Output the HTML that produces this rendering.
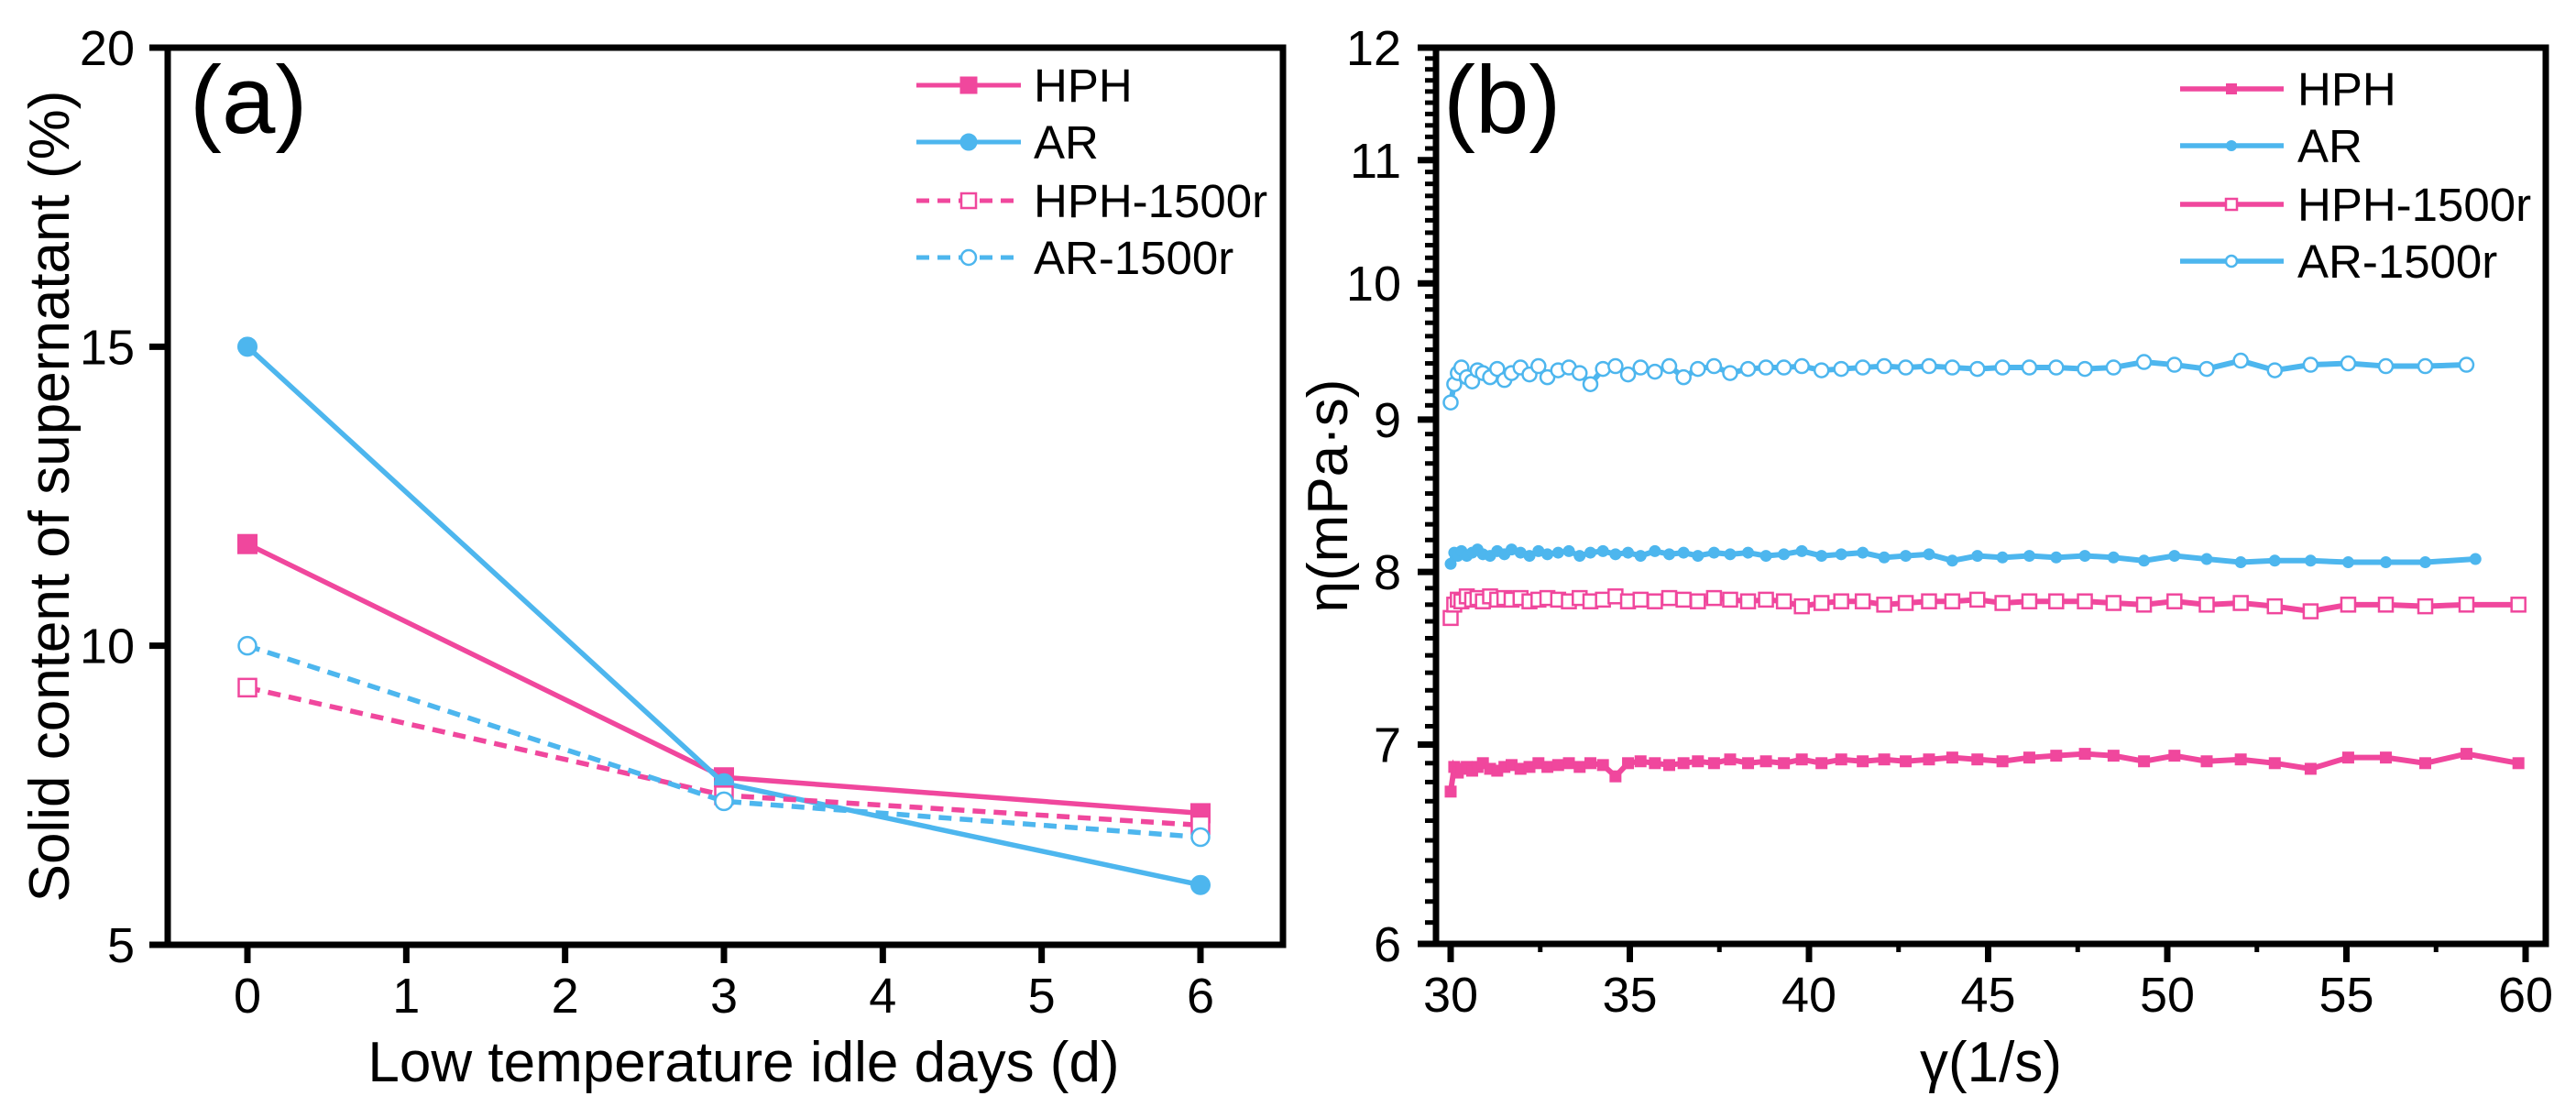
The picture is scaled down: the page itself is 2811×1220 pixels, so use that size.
<!DOCTYPE html>
<html><head><meta charset="utf-8"><style>
html,body{margin:0;padding:0;background:#fff}
svg{display:block;font-family:"Liberation Sans",Arial,sans-serif}
</style></head><body>
<svg id="fig" width="2811" height="1220" viewBox="0 0 2811 1220" xmlns="http://www.w3.org/2000/svg">
<g id="pa"></g>
<g id="pb"></g>
</svg>
<script>
// ---- Panel (a) data ----
const daysA = [0, 3, 6];
const hphA = [11.7, 7.8, 7.2];
const arA = [15.0, 7.7, 6.0];
const hph1500A = [9.3, 7.5, 7.0];
const ar1500A = [10.0, 7.4, 6.8];
const xTicksA = [0, 1, 2, 3, 4, 5, 6];
const yTicksA = [5, 10, 15, 20];

// ---- Panel (b) data ----
const shearB = [30.0,30.1,30.2,30.3,30.45,30.6,30.75,30.9,31.1,31.3,31.5,31.7,31.95,32.2,32.45,32.7,33.0,33.3,33.6,33.9,34.25,34.6,34.95,35.3,35.7,36.1,36.5,36.9,37.35,37.8,38.3,38.8,39.3,39.8,40.35,40.9,41.5,42.1,42.7,43.35,44.0,44.7,45.4,46.15,46.9,47.7,48.5,49.35,50.2,51.1,52.05,53.0,54.0,55.05,56.1,57.2,58.35,59.8];
const shearAR = [30.0,30.1,30.2,30.3,30.45,30.6,30.75,30.9,31.1,31.3,31.5,31.7,31.95,32.2,32.45,32.7,33.0,33.3,33.6,33.9,34.25,34.6,34.95,35.3,35.7,36.1,36.5,36.9,37.35,37.8,38.3,38.8,39.3,39.8,40.35,40.9,41.5,42.1,42.7,43.35,44.0,44.7,45.4,46.15,46.9,47.7,48.5,49.35,50.2,51.1,52.05,53.0,54.0,55.05,56.1,57.2,58.6];
const hphB = [6.75,6.88,6.85,6.87,6.88,6.86,6.88,6.9,6.87,6.86,6.88,6.89,6.87,6.88,6.9,6.88,6.89,6.9,6.88,6.9,6.89,6.83,6.9,6.91,6.9,6.89,6.9,6.91,6.9,6.92,6.9,6.91,6.9,6.92,6.9,6.92,6.91,6.92,6.91,6.92,6.93,6.92,6.91,6.93,6.94,6.95,6.94,6.91,6.94,6.91,6.92,6.9,6.87,6.93,6.93,6.9,6.95,6.9];
const arB = [8.05,8.12,8.1,8.13,8.1,8.12,8.14,8.11,8.1,8.13,8.11,8.14,8.12,8.1,8.13,8.11,8.12,8.13,8.1,8.12,8.13,8.11,8.12,8.1,8.13,8.11,8.12,8.1,8.12,8.11,8.12,8.1,8.11,8.13,8.1,8.11,8.12,8.09,8.1,8.11,8.07,8.1,8.09,8.1,8.09,8.1,8.09,8.07,8.1,8.08,8.06,8.07,8.07,8.06,8.06,8.06,8.08];
const hph1500B = [7.72,7.8,7.83,7.82,7.85,7.83,7.84,7.82,7.85,7.83,7.84,7.83,7.84,7.82,7.83,7.84,7.83,7.82,7.84,7.82,7.83,7.85,7.82,7.83,7.82,7.84,7.83,7.82,7.84,7.83,7.82,7.83,7.82,7.79,7.81,7.82,7.82,7.8,7.81,7.82,7.82,7.83,7.81,7.82,7.82,7.82,7.81,7.8,7.82,7.8,7.81,7.79,7.76,7.8,7.8,7.79,7.8,7.8];
const ar1500B = [9.12,9.25,9.33,9.37,9.3,9.27,9.35,9.33,9.3,9.36,9.28,9.33,9.37,9.32,9.38,9.3,9.35,9.37,9.33,9.25,9.36,9.38,9.32,9.37,9.34,9.38,9.3,9.36,9.38,9.33,9.36,9.37,9.37,9.38,9.35,9.36,9.37,9.38,9.37,9.38,9.37,9.36,9.37,9.37,9.37,9.36,9.37,9.41,9.39,9.36,9.42,9.35,9.39,9.4,9.38,9.38,9.39];
const xTicksB = [30, 35, 40, 45, 50, 55, 60];
const yTicksB = [6, 7, 8, 9, 10, 11, 12];

const NS = "http://www.w3.org/2000/svg";
const PINK = "#f0479d", BLUE = "#4db6ee";
function mk(parent, tag, attrs, text) {
  const e = document.createElementNS(NS, tag);
  for (const k in attrs) e.setAttribute(k, attrs[k]);
  if (text !== undefined) e.textContent = text;
  parent.appendChild(e);
  return e;
}
function marker(g, shape, x, y, s, color, filled) {
  let m;
  if (shape === "sq") m = mk(g, "rect", {x: x - s/2, y: y - s/2, width: s, height: s, fill: filled ? color : "#fff", stroke: color, "stroke-width": filled ? 1 : 2.5});
  else m = mk(g, "circle", {cx: x, cy: y, r: s/2, fill: filled ? color : "#fff", stroke: color, "stroke-width": filled ? 1 : 2.5});
  
  
  return m;
}

// ---------- Panel A ----------
(function () {
  const g = document.getElementById("pa");
  const L = 183, R = 1400, T = 52, B = 1031;
  const sx = d => 270 + (d - 0) * (1310 - 270) / 6;
  const sy = v => B - (v - 5) * (B - T) / 15;
  const series = [
    {name: "HPH", vals: hphA, color: PINK, shape: "sq", filled: true, dash: null},
    {name: "AR", vals: arA, color: BLUE, shape: "ci", filled: true, dash: null},
    {name: "HPH-1500r", vals: hph1500A, color: PINK, shape: "sq", filled: false, dash: "14 9"},
    {name: "AR-1500r", vals: ar1500A, color: BLUE, shape: "ci", filled: false, dash: "14 9"}
  ];
  series.forEach(s => {
    const sg = mk(g, "g", {});
    
    
    const pts = daysA.map((d, i) => sx(d) + "," + sy(s.vals[i])).join(" ");
    const pl = mk(sg, "polyline", {points: pts, fill: "none", stroke: s.color, "stroke-width": 5.5, "stroke-dasharray": s.dash || "none"});
    
    
    daysA.forEach((d, i) => marker(sg, s.shape, sx(d), sy(s.vals[i]), s.filled ? 21 : 19, s.color, s.filled));
  });
  const box = mk(g, "rect", {x: L, y: T, width: R - L, height: B - T, fill: "none", stroke: "#000", "stroke-width": 7});
  
  
  xTicksA.forEach(t => {
    mk(g, "line", {x1: sx(t), x2: sx(t), y1: B, y2: B + 20, stroke: "#000", "stroke-width": 7});
    const tl = mk(g, "text", {x: sx(t), y: B + 74, "font-size": 54, "text-anchor": "middle"}, String(t));
    
    
  });
  yTicksA.forEach(t => {
    mk(g, "line", {x1: L - 20, x2: L, y1: sy(t), y2: sy(t), stroke: "#000", "stroke-width": 7});
    const tl = mk(g, "text", {x: 147, y: sy(t) + 19, "font-size": 54, "text-anchor": "end"}, String(t));
    
    
  });
  const xt = mk(g, "text", {x: (L + R) / 2 + 20, y: 1180, "font-size": 62, "text-anchor": "middle"}, "Low temperature idle days (d)");
  
  
  const yt = mk(g, "text", {x: 0, y: 0, "font-size": 62, "text-anchor": "middle", transform: "translate(75," + ((T + B) / 2) + ") rotate(-90)"}, "Solid content of supernatant (%)");
  
  
  const pl = mk(g, "text", {x: 207, y: 145, "font-size": 105}, "(a)");
  
  
  const lg = mk(g, "g", {});
  
  
  const ly = [93, 155, 219, 281];
  series.forEach((s, i) => {
    const e = mk(lg, "g", {});
    
    
    mk(e, "line", {x1: 1000, x2: 1114, y1: ly[i], y2: ly[i], stroke: s.color, "stroke-width": 5, "stroke-dasharray": s.dash || "none"});
    marker(e, s.shape, 1057, ly[i], s.filled ? 18 : 16, s.color, s.filled);
    mk(e, "text", {x: 1128, y: ly[i] + 18, "font-size": 51}, s.name);
  });
})();

// ---------- Panel B ----------
(function () {
  const g = document.getElementById("pb");
  const L = 1567, R = 2778, T = 52, B = 1030;
  const sx = v => 1583 + (v - 30) * (2756 - 1583) / 30;
  const sy = v => B - Math.log(v / 6) / Math.log(2) * (B - T);
  const series = [
    {name: "HPH", xs: shearB, vals: hphB, color: PINK, shape: "sq", filled: true},
    {name: "AR", xs: shearAR, vals: arB, color: BLUE, shape: "ci", filled: true},
    {name: "HPH-1500r", xs: shearB, vals: hph1500B, color: PINK, shape: "sq", filled: false},
    {name: "AR-1500r", xs: shearB, vals: ar1500B, color: BLUE, shape: "ci", filled: false}
  ];
  series.forEach(s => {
    const sg = mk(g, "g", {});
    
    
    const n = Math.min(s.xs.length, s.vals.length);
    const pts = [];
    for (let i = 0; i < n; i++) pts.push(sx(s.xs[i]) + "," + sy(s.vals[i]));
    const pl = mk(sg, "polyline", {points: pts.join(" "), fill: "none", stroke: s.color, "stroke-width": 6});
    
    
    for (let i = 0; i < n; i++) marker(sg, s.shape, sx(s.xs[i]), sy(s.vals[i]), s.filled ? 12 : 15, s.color, s.filled);
  });
  const box = mk(g, "rect", {x: L, y: T, width: R - L, height: B - T, fill: "none", stroke: "#000", "stroke-width": 7});
  
  
  xTicksB.forEach(t => {
    mk(g, "line", {x1: sx(t), x2: sx(t), y1: B, y2: B + 20, stroke: "#000", "stroke-width": 7});
    mk(g, "line", {x1: sx(t + 2.5), x2: sx(t + 2.5), y1: B, y2: B + 9, stroke: "#000", "stroke-width": 5});
    const tl = mk(g, "text", {x: sx(t), y: B + 74, "font-size": 54, "text-anchor": "middle"}, String(t));
    
    
  });
  yTicksB.forEach((t, i) => {
    mk(g, "line", {x1: L - 20, x2: L, y1: sy(t), y2: sy(t), stroke: "#000", "stroke-width": 7});
    const tl = mk(g, "text", {x: 1529, y: sy(t) + 19, "font-size": 54, "text-anchor": "end"}, String(t));
    
    
    if (i < yTicksB.length - 1) for (let k = 1; k < 10; k++) {
      const v = t + k * 0.1;
      mk(g, "line", {x1: L - 12, x2: L, y1: sy(v), y2: sy(v), stroke: "#000", "stroke-width": 5});
    }
  });
  const xt = mk(g, "text", {x: (L + R) / 2, y: 1180, "font-size": 62, "text-anchor": "middle"}, "γ(1/s)");
  
  
  const yt = mk(g, "text", {x: 0, y: 0, "font-size": 62, "text-anchor": "middle", transform: "translate(1470," + ((T + B) / 2) + ") rotate(-90)"}, "η(mPa·s)");
  
  
  const pl = mk(g, "text", {x: 1575, y: 145, "font-size": 105}, "(b)");
  
  
  const lg = mk(g, "g", {});
  
  
  const ly = [97, 159, 223, 285];
  series.forEach((s, i) => {
    const e = mk(lg, "g", {});
    
    
    mk(e, "line", {x1: 2379, x2: 2492, y1: ly[i], y2: ly[i], stroke: s.color, "stroke-width": 5.5});
    marker(e, s.shape, 2435, ly[i], s.filled ? 11 : 12, s.color, s.filled);
    mk(e, "text", {x: 2507, y: ly[i] + 18, "font-size": 51}, s.name);
  });
})();
</script>
</body></html>
